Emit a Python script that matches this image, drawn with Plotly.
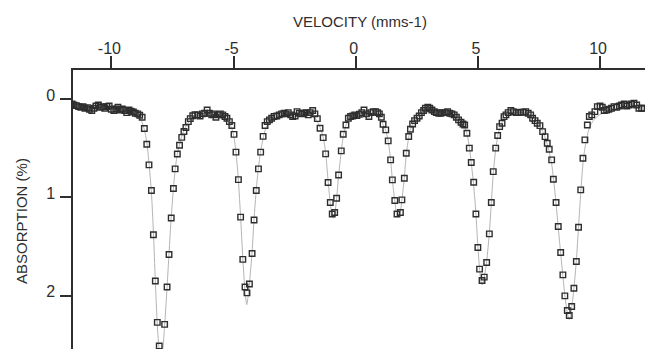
import plotly.graph_objects as go

# Measured spectrum (velocity in mm/s, absorption in %)
velocity = [
    -11.61, -11.53, -11.43, -11.34, -11.25, -11.16, -11.08, -10.98, -10.90, -10.80,
    -10.71, -10.63, -10.53, -10.45, -10.35, -10.27, -10.18, -10.09, -10.00, -9.90,
    -9.82, -9.73, -9.63, -9.55, -9.45, -9.37, -9.28, -9.19, -9.10, -9.02,
    -8.92, -8.84, -8.74,
    -8.65, -8.55, -8.46, -8.36, -8.28, -8.20, -8.12, -8.04, -7.93, -7.82,
    -7.72, -7.64, -7.55, -7.46, -7.39, -7.30, -7.21, -7.12, -7.03, -6.95,
    -6.85, -6.77, -6.67, -6.58,
    -6.47, -6.37, -6.28, -6.18, -6.08, -5.99, -5.89, -5.81, -5.72, -5.62,
    -5.54, -5.44, -5.35, -5.27, -5.17,
    -5.07, -4.98, -4.90, -4.80, -4.71, -4.62, -4.53, -4.45, -4.35, -4.24,
    -4.16, -4.07, -3.98, -3.89, -3.79, -3.71, -3.62,
    -3.53, -3.44, -3.34, -3.23, -3.13, -3.03, -2.93, -2.85, -2.76, -2.66,
    -2.58, -2.48, -2.40, -2.31, -2.21, -2.12, -2.03, -1.94, -1.86, -1.76,
    -1.67, -1.57,
    -1.46, -1.33, -1.23, -1.13, -1.04, -0.96, -0.86, -0.78, -0.70, -0.59,
    -0.51, -0.40, -0.30,
    -0.21, -0.12, -0.04, 0.05, 0.15, 0.25, 0.34, 0.44, 0.54, 0.62,
    0.72, 0.82, 0.90, 0.97, 1.05,
    1.12, 1.23, 1.33, 1.43, 1.50, 1.60, 1.69, 1.83, 1.89, 1.99,
    2.07, 2.17, 2.24, 2.33, 2.41, 2.51, 2.60, 2.69, 2.78, 2.85,
    2.95, 3.03, 3.12, 3.22, 3.30, 3.40, 3.49, 3.57, 3.67, 3.76,
    3.85, 3.94, 4.03, 4.12, 4.21, 4.31, 4.39, 4.46,
    4.55, 4.65, 4.73, 4.83, 4.92, 5.00, 5.07, 5.17, 5.26, 5.36,
    5.47, 5.55, 5.63, 5.73, 5.81, 5.89, 5.99, 6.07, 6.15, 6.24,
    6.35, 6.45, 6.56, 6.65, 6.75, 6.86, 6.96, 7.06, 7.16, 7.24,
    7.34, 7.43, 7.54, 7.65, 7.75, 7.84, 7.92, 8.02, 8.09, 8.20,
    8.29, 8.39, 8.48, 8.56, 8.66, 8.74, 8.84, 8.93, 9.03, 9.12,
    9.21, 9.30, 9.38, 9.48, 9.56, 9.66, 9.79, 9.89, 10.00, 10.09,
    10.17, 10.27, 10.36, 10.47, 10.57, 10.68, 10.79, 10.88, 10.99, 11.09,
    11.19, 11.29, 11.39, 11.50, 11.59, 11.70, 11.80,
]
absorption = [
    0.051, 0.061, 0.068, 0.078, 0.085, 0.078, 0.095, 0.088, 0.105, 0.118,
    0.095, 0.071, 0.061, 0.085, 0.078, 0.095, 0.078, 0.071, 0.105, 0.118,
    0.102, 0.085, 0.112, 0.102, 0.118, 0.139, 0.112, 0.125, 0.132, 0.146,
    0.152, 0.166, 0.186,
    0.30, 0.46, 0.67, 0.93, 1.38, 1.85, 2.27, 2.51, 2.62, 2.29,
    1.91, 1.58, 1.21, 0.91, 0.71, 0.56, 0.47, 0.39, 0.33, 0.29,
    0.23, 0.20, 0.17, 0.16,
    0.162, 0.173, 0.152, 0.146, 0.112, 0.146, 0.162, 0.152, 0.186, 0.162,
    0.152, 0.162, 0.179, 0.196, 0.23,
    0.27, 0.36, 0.54, 0.82, 1.20, 1.63, 1.91, 1.97, 1.88, 1.57,
    1.23, 0.93, 0.71, 0.54, 0.38, 0.27, 0.23,
    0.213, 0.196, 0.179, 0.173, 0.162, 0.152, 0.146, 0.152, 0.139, 0.162,
    0.179, 0.173, 0.129, 0.146, 0.152, 0.146, 0.139, 0.162, 0.139, 0.118,
    0.152, 0.20,
    0.298, 0.393, 0.558, 0.849, 1.052, 1.168, 1.154, 1.008, 0.772, 0.528,
    0.359, 0.264, 0.196,
    0.179, 0.173, 0.162, 0.169, 0.156, 0.139, 0.112, 0.152, 0.179, 0.139,
    0.129, 0.129, 0.139, 0.152, 0.186,
    0.257, 0.314, 0.426, 0.619, 0.822, 1.032, 1.168, 1.154, 1.025, 0.805,
    0.552, 0.382, 0.308, 0.254, 0.220, 0.196, 0.173, 0.139, 0.118, 0.095,
    0.085, 0.095, 0.112, 0.129, 0.139, 0.146, 0.146, 0.139, 0.139, 0.129,
    0.146, 0.152, 0.162, 0.186, 0.213, 0.237, 0.254, 0.264,
    0.349, 0.500, 0.646, 0.846, 1.168, 1.509, 1.729, 1.844, 1.810, 1.662,
    1.371, 1.052, 0.738, 0.500, 0.372, 0.281, 0.247, 0.180, 0.162, 0.139,
    0.118, 0.129, 0.139, 0.139, 0.135, 0.135, 0.129, 0.146, 0.162, 0.196,
    0.220, 0.247, 0.271, 0.332, 0.383, 0.450, 0.511, 0.619, 0.816, 1.052,
    1.296, 1.560, 1.787, 2.000, 2.149, 2.200, 2.109, 1.923, 1.651, 1.303,
    0.924, 0.602, 0.416, 0.264, 0.179, 0.162, 0.129, 0.078, 0.071, 0.085,
    0.118, 0.112, 0.105, 0.095, 0.078, 0.085, 0.071, 0.061, 0.051, 0.071,
    0.061, 0.051, 0.044, 0.061, 0.095, 0.095, 0.095,
]

# Fitted curve
fit_velocity = [
    -11.60, -11.00, -10.50, -10.00, -9.50, -9.20, -9.00, -8.85, -8.74, -8.65,
    -8.55, -8.46, -8.36, -8.28, -8.20, -8.12, -8.04, -7.98, -7.93, -7.82,
    -7.72, -7.64, -7.55, -7.46, -7.39, -7.30, -7.21, -7.12, -7.03, -6.90,
    -6.75, -6.50, -6.20, -6.00, -5.70, -5.45, -5.27, -5.17,
    -5.07, -4.98, -4.90, -4.80, -4.71, -4.62, -4.53, -4.46, -4.40, -4.35,
    -4.24, -4.16, -4.07, -3.98, -3.89, -3.79, -3.71, -3.60, -3.45, -3.20,
    -2.90, -2.60, -2.30, -2.00, -1.80, -1.65, -1.55,
    -1.46, -1.33, -1.23, -1.13, -1.04, -0.97, -0.92, -0.86, -0.78, -0.70,
    -0.59, -0.51, -0.40, -0.30, -0.15, 0.10, 0.40, 0.70, 0.90, 1.03,
    1.12, 1.23, 1.33, 1.43, 1.50, 1.60, 1.70, 1.76, 1.83, 1.89,
    1.99, 2.07, 2.17, 2.24, 2.33, 2.45, 2.60, 2.80, 3.10, 3.40,
    3.70, 3.95, 4.12, 4.25, 4.39,
    4.46, 4.55, 4.65, 4.73, 4.83, 4.92, 5.00, 5.07, 5.13, 5.18,
    5.26, 5.36, 5.47, 5.55, 5.63, 5.73, 5.81, 5.89, 5.99, 6.10,
    6.30, 6.60, 6.90, 7.10, 7.25, 7.40, 7.54, 7.65, 7.75, 7.84,
    7.92, 8.02, 8.09, 8.20, 8.29, 8.39, 8.48, 8.56, 8.66, 8.74,
    8.80, 8.84, 8.93, 9.03, 9.12, 9.21, 9.30, 9.38, 9.48, 9.56,
    9.65, 9.75, 9.93, 10.27, 10.70, 11.20, 11.85,
]
fit_absorption = [
    0.050, 0.070, 0.085, 0.100, 0.120, 0.140, 0.160, 0.195, 0.240, 0.310,
    0.440, 0.650, 0.950, 1.350, 1.850, 2.300, 2.560, 2.640, 2.620, 2.300,
    1.910, 1.570, 1.200, 0.910, 0.720, 0.560, 0.460, 0.380, 0.320, 0.260,
    0.210, 0.170, 0.150, 0.150, 0.160, 0.180, 0.210, 0.250,
    0.300, 0.390, 0.540, 0.830, 1.200, 1.620, 1.950, 2.090, 2.000, 1.880,
    1.550, 1.220, 0.920, 0.700, 0.530, 0.400, 0.320, 0.260, 0.220, 0.180,
    0.160, 0.155, 0.155, 0.160, 0.180, 0.200, 0.240,
    0.290, 0.390, 0.550, 0.830, 1.060, 1.180, 1.210, 1.170, 1.010, 0.780,
    0.530, 0.380, 0.270, 0.210, 0.170, 0.150, 0.145, 0.150, 0.170, 0.210,
    0.260, 0.320, 0.430, 0.620, 0.820, 1.040, 1.200, 1.190, 1.140, 1.030,
    0.800, 0.560, 0.390, 0.310, 0.260, 0.210, 0.170, 0.140, 0.130, 0.135,
    0.145, 0.165, 0.190, 0.220, 0.260,
    0.290, 0.350, 0.490, 0.650, 0.880, 1.170, 1.500, 1.730, 1.860, 1.890,
    1.810, 1.650, 1.360, 1.060, 0.760, 0.510, 0.380, 0.300, 0.240, 0.190,
    0.150, 0.135, 0.140, 0.160, 0.190, 0.230, 0.280, 0.330, 0.390, 0.460,
    0.540, 0.660, 0.800, 1.060, 1.310, 1.570, 1.800, 2.000, 2.170, 2.240,
    2.200, 2.120, 1.930, 1.640, 1.300, 0.950, 0.660, 0.500, 0.370, 0.300,
    0.250, 0.210, 0.170, 0.125, 0.100, 0.085, 0.075,
]

x_ticks = [-10, -5, 0, 5, 10]
x_tick_labels = ["-10", "-5", "0", "5", "10"]
y_ticks = [0, 1, 2]
y_tick_labels = ["0", "1", "2"]
x_title = "VELOCITY (mms-1)"
y_title = "ABSORPTION (%)"

FONT = "Liberation Sans, Arial, Helvetica, sans-serif"
INK = "#2e2e2e"

fig = go.Figure()
fig.add_trace(go.Scatter(
    x=fit_velocity, y=fit_absorption, mode="lines",
    line=dict(color="#b4b4b4", width=1, shape="spline", smoothing=0.6),
    hoverinfo="skip", showlegend=False,
))
fig.add_trace(go.Scatter(
    x=velocity, y=absorption, mode="markers",
    marker=dict(symbol="square-open", size=5.5, color=INK, line=dict(width=1.4, color=INK)),
    showlegend=False,
))

fig.update_layout(
    width=645, height=349,
    margin=dict(l=73, r=0, t=70, b=0),
    paper_bgcolor="white", plot_bgcolor="white",
    font=dict(family=FONT, color=INK),
    annotations=[
        dict(text=x_title, xref="paper", yref="paper", x=0.5009, y=1.1756,
             xanchor="center", yanchor="middle", showarrow=False,
             font=dict(size=15, color=INK, family=FONT)),
        dict(text=y_title, xref="paper", yref="paper", x=-0.0892, y=0.4588,
             xanchor="center", yanchor="middle", showarrow=False, textangle=-90,
             font=dict(size=15, color=INK, family=FONT)),
    ],
)
fig.update_xaxes(
    side="top", range=[-11.57, 11.84], tickvals=x_ticks, ticktext=x_tick_labels,
    ticks="outside", ticklen=12, tickwidth=1.5, tickcolor=INK,
    showline=True, linewidth=1.5, linecolor=INK, mirror=False,
    showgrid=False, zeroline=False, tickfont=dict(size=16, color=INK, family=FONT),
    ticklabelstandoff=-4, ticklabelshift=-2,
)
fig.update_yaxes(
    range=[2.54, -0.294], tickvals=y_ticks, ticktext=y_tick_labels,
    ticks="outside", ticklen=11, tickwidth=1.5, tickcolor=INK,
    showline=True, linewidth=1.5, linecolor=INK, mirror=False,
    showgrid=False, zeroline=False, tickfont=dict(size=16, color=INK, family=FONT),
    ticklabelstandoff=2, ticklabelshift=4,
)

fig.write_html("out.html")
